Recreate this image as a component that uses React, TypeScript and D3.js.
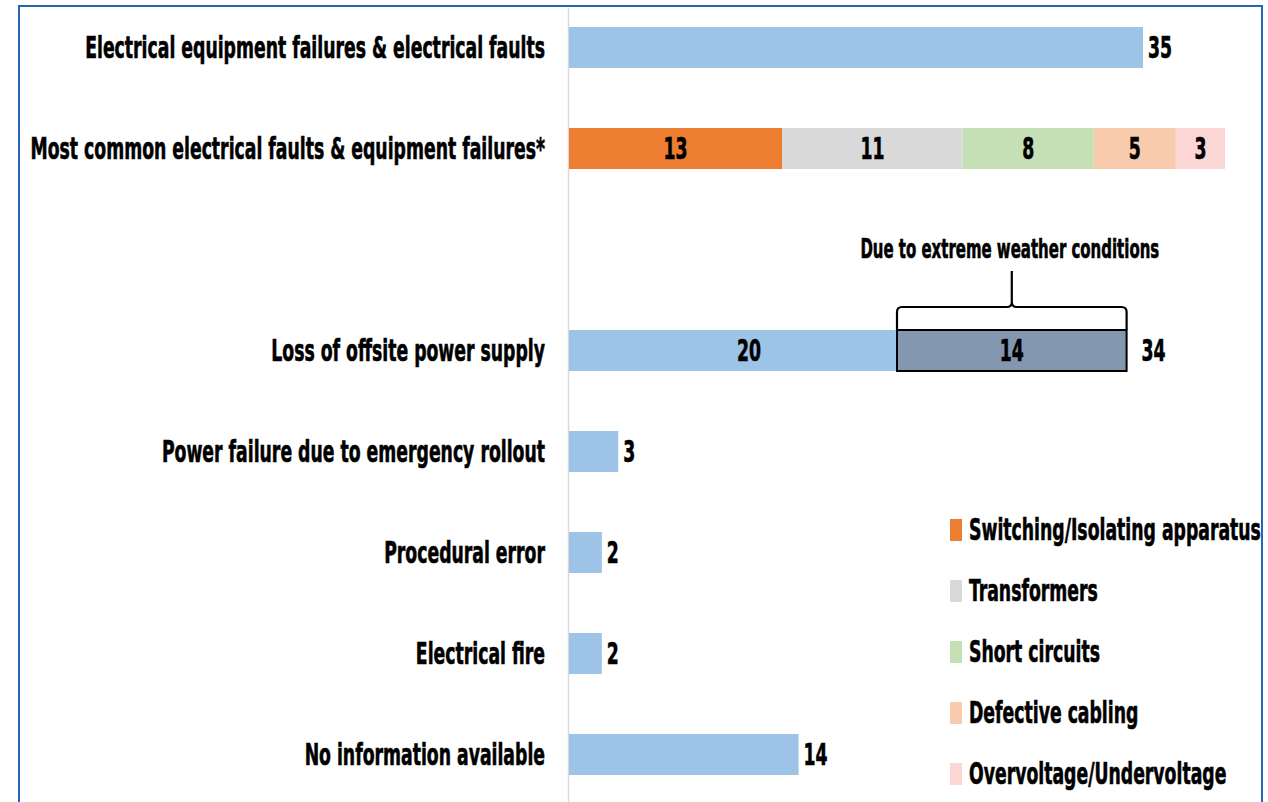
import React from "react";
import * as d3 from "d3";

const categories = [
  "Electrical equipment failures & electrical faults",
  "Most common electrical faults & equipment failures*",
  "",
  "Loss of offsite power supply",
  "Power failure due to emergency rollout ",
  "Procedural error",
  "Electrical fire",
  "No information available",
];
const simpleValues: [string, number][] = [
  ["Electrical equipment failures & electrical faults", 35],
  ["Power failure due to emergency rollout ", 3],
  ["Procedural error", 2],
  ["Electrical fire", 2],
  ["No information available", 14],
];
const faultTypes = [
  "Switching/Isolating apparatus",
  "Transformers",
  "Short circuits",
  "Defective cabling",
  "Overvoltage/Undervoltage",
];
const faultValues = [13, 11, 8, 5, 3];
const faultColors = ["#ed7d31", "#d9d9d9", "#c5e0b4", "#f8cbad", "#fcd5d5"];
const offsiteOther = 20;
const offsiteWeather = 14;
const weatherNote = "Due to extreme weather conditions";

const FONT = "'DejaVu Sans Condensed', 'DejaVu Sans', sans-serif";
const SX = 0.64;

function T({ x, y, anchor = "start", size = 30, children }: any) {
  return (
    <text
      transform={`translate(${x},${y}) scale(${SX},1)`}
      textAnchor={anchor}
      fontFamily={FONT}
      fontWeight="bold"
      fontSize={size}
      fill="#000"
      stroke="#000"
      strokeWidth={0.6}
    >
      {children}
    </text>
  );
}

export default function App() {
  const x = d3.scaleLinear().domain([0, 40]).range([569, 1225]);
  const y = d3.scalePoint<string>().domain(categories.map((c, i) => c || `blank${i}`)).range([47.5, 754.5]);
  const bh = 41;
  const yc = (c: string) => y(c) as number;
  const blue = "#9dc3e6";

  let acc = 0;
  const stacks = faultValues.map((v, i) => {
    const s = { x0: acc, x1: acc + v, v, c: faultColors[i] };
    acc += v;
    return s;
  });

  const offY = yc("Loss of offsite power supply");
  const wx0 = x(offsiteOther);
  const wx1 = x(offsiteOther + offsiteWeather);
  const wmid = (wx0 + wx1) / 2;
  const bTop = offY - bh / 2;
  const braceY = bTop - 23;
  const legendY = d3.scalePoint<string>().domain(faultTypes).range([530, 774]);

  return (
    <svg width={1268} height={802} style={{ position: "absolute", left: 0, top: 0, background: "#fff" }}>
      <rect x={0} y={0} width={1268} height={802} fill="#fff" />
      <rect x={19} y={6} width={1243} height={820} fill="none" stroke="#2a64b8" strokeWidth={2} />
      <line x1={568.5} x2={568.5} y1={8} y2={802} stroke="#d9d9d9" strokeWidth={1.5} />

      {categories.filter((c) => c).map((c) => (
        <T key={c} x={545} y={yc(c) + 10} anchor="end">{c.trimEnd()}</T>
      ))}

      {simpleValues.map(([c, v]) => (
        <g key={c}>
          <rect x={x(0)} y={yc(c) - bh / 2} width={x(v) - x(0)} height={bh} fill={blue} />
          <T x={x(v) + 5} y={yc(c) + 10}>{v}</T>
        </g>
      ))}

      {stacks.map((s, i) => (
        <g key={i}>
          <rect x={x(s.x0)} y={yc(categories[1]) - bh / 2} width={x(s.x1) - x(s.x0)} height={bh} fill={s.c} />
          <T x={(x(s.x0) + x(s.x1)) / 2} y={yc(categories[1]) + 10} anchor="middle">{s.v}</T>
        </g>
      ))}

      <rect x={x(0)} y={bTop} width={wx0 - x(0)} height={bh} fill={blue} />
      <rect x={wx0} y={bTop} width={wx1 - wx0} height={bh} fill="#8497b0" stroke="#000" strokeWidth={2} />
      <T x={(x(0) + wx0) / 2 + 16} y={offY + 10} anchor="middle">{offsiteOther}</T>
      <T x={wmid} y={offY + 10} anchor="middle">{offsiteWeather}</T>
      <T x={wx1 + 15} y={offY + 10}>{offsiteOther + offsiteWeather}</T>

      <path
        d={`M${wx0},${bTop} L${wx0},${braceY + 5} Q${wx0},${braceY} ${wx0 + 5},${braceY} L${wmid - 5},${braceY} Q${wmid},${braceY} ${wmid},${braceY - 5} L${wmid},${braceY - 36} M${wmid},${braceY - 5} Q${wmid},${braceY} ${wmid + 5},${braceY} L${wx1 - 5},${braceY} Q${wx1},${braceY} ${wx1},${braceY + 5} L${wx1},${bTop}`}
        fill="none"
        stroke="#000"
        strokeWidth={2.2}
      />
      <T x={wmid - 2} y={258} anchor="middle" size={26}>{weatherNote}</T>

      {faultTypes.map((f, i) => (
        <g key={f}>
          <rect x={950} y={(legendY(f) as number) - 11} width={12} height={22} fill={faultColors[i]} />
          <T x={969} y={(legendY(f) as number) + 10}>{f}</T>
        </g>
      ))}
    </svg>
  );
}
